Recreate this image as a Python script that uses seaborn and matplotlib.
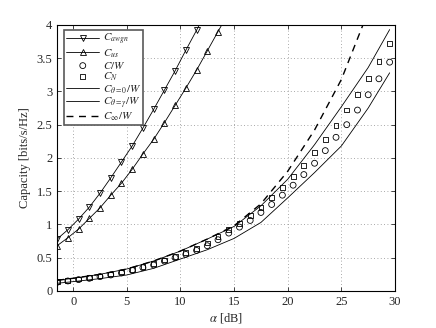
import numpy as np
import pandas as pd
import matplotlib
matplotlib.use("Agg")
import matplotlib.pyplot as plt
import seaborn as sns

# --- data ---
alpha_awgn = [-1.5, -0.5, 0.5, 1.5, 2.5, 3.5, 4.5, 5.5, 6.5, 7.5, 8.5, 9.5, 10.5, 11.5, 12.5]
cap_awgn = [0.78, 0.92, 1.08, 1.26, 1.47, 1.70, 1.94, 2.18, 2.45, 2.73, 3.02, 3.31, 3.62, 3.92, 4.23]

alpha_us = [-1.5, -0.5, 0.5, 1.5, 2.5, 3.5, 4.5, 5.5, 6.5, 7.5, 8.5, 9.5, 10.5, 11.5, 12.5, 13.5, 14.5]
cap_us = [0.68, 0.80, 0.93, 1.09, 1.25, 1.44, 1.62, 1.83, 2.06, 2.28, 2.53, 2.79, 3.05, 3.32, 3.61, 3.90, 4.19]

alpha_sim = [-1.5, -0.5, 0.5, 1.5, 2.5, 3.5, 4.5, 5.5, 6.5, 7.5, 8.5, 9.5, 10.5, 11.5, 12.5, 13.5,
             14.5, 15.5, 16.5, 17.5, 18.5, 19.5, 20.5, 21.5, 22.5, 23.5, 24.5, 25.5, 26.5, 27.5, 28.5, 29.5]
cap_w = [0.13, 0.15, 0.17, 0.19, 0.215, 0.24, 0.27, 0.31, 0.35, 0.39, 0.45, 0.50, 0.55, 0.61, 0.68, 0.77,
         0.87, 0.96, 1.06, 1.18, 1.30, 1.44, 1.59, 1.75, 1.92, 2.11, 2.31, 2.50, 2.72, 2.95, 3.19, 3.44]
cap_n = [0.14, 0.16, 0.18, 0.20, 0.225, 0.255, 0.285, 0.325, 0.365, 0.41, 0.465, 0.52, 0.575, 0.64, 0.72, 0.82,
         0.92, 1.02, 1.14, 1.26, 1.40, 1.55, 1.72, 1.89, 2.08, 2.28, 2.49, 2.72, 2.95, 3.19, 3.45, 3.72]

alpha_th = [-1.5, 0, 2.5, 5, 7.5, 10, 12.5, 15, 17.5, 20, 22.5, 25, 27.5, 29.5]
cap_th0 = [0.115, 0.14, 0.185, 0.24, 0.34, 0.48, 0.62, 0.79, 1.03, 1.40, 1.78, 2.18, 2.75, 3.28]
cap_thg = [0.16, 0.19, 0.25, 0.33, 0.45, 0.60, 0.78, 0.97, 1.28, 1.68, 2.20, 2.77, 3.36, 3.93]

alpha_inf = [-1.5, 0, 2.5, 5, 7.5, 10, 12.5, 15, 17.5, 20, 22.5, 25, 27.5]
cap_inf = [0.16, 0.19, 0.25, 0.33, 0.45, 0.60, 0.78, 0.98, 1.31, 1.80, 2.42, 3.18, 4.2]

sns.set_style("ticks")
plt.rcParams['font.family'] = ['Liberation Serif', 'DejaVu Serif']
plt.rcParams['mathtext.fontset'] = 'stix'

fig = plt.figure(figsize=(4.36, 3.28), dpi=100)
ax = fig.add_axes([0.131, 0.113, 0.775, 0.811])

lw = 0.6
ms = 4.5
sns.lineplot(x=alpha_awgn, y=cap_awgn, ax=ax, color='k', lw=lw, marker='v', ms=ms,
             mfc='none', mec='k', mew=0.6, label=r'$C_{awgn}$')
sns.lineplot(x=alpha_us, y=cap_us, ax=ax, color='k', lw=lw, marker='^', ms=ms,
             mfc='none', mec='k', mew=0.6, label=r'$C_{us}$')
sns.scatterplot(x=alpha_sim, y=cap_w, ax=ax, marker='o', s=18, facecolor='none',
                edgecolor='k', linewidth=0.6, label=r'$C/W$')
sns.scatterplot(x=alpha_sim, y=cap_n, ax=ax, marker='s', s=12, facecolor='none',
                edgecolor='k', linewidth=0.6, label=r'$C_N$')
sns.lineplot(x=alpha_th, y=cap_th0, ax=ax, color='k', lw=lw, label=r'$C_{\theta=0}/W$')
sns.lineplot(x=alpha_th, y=cap_thg, ax=ax, color='k', lw=lw, label=r'$C_{\theta=\gamma}/W$')
sns.lineplot(x=alpha_inf, y=cap_inf, ax=ax, color='k', lw=1.0, ls=(0, (5, 4)), label=r'$C_{\infty}/W$')

ax.set_xlim(-1.5, 30)
ax.set_ylim(0, 4)
ax.set_xticks([0, 5, 10, 15, 20, 25, 30])
ax.set_yticks([0, 0.5, 1, 1.5, 2, 2.5, 3, 3.5, 4])
ax.set_yticklabels(['0', '0.5', '1', '1.5', '2', '2.5', '3', '3.5', '4'])
ax.tick_params(direction='in', top=True, right=True, labelsize=9, length=3, width=0.6)
ax.grid(True, ls=(0, (1, 3)), color='0.55', lw=0.6)
for sp in ax.spines.values():
    sp.set_linewidth(0.8)
    sp.set_color('k')

ax.set_xlabel(r'$\alpha$ [dB]', fontsize=9, labelpad=2)
ax.set_ylabel('Capacity [bits/s/Hz]', fontsize=9, labelpad=4)

leg = ax.legend(loc='upper left', bbox_to_anchor=(0.02, 0.982), fontsize=8, fancybox=False,
                framealpha=1, edgecolor='0.35', handlelength=3.0, borderpad=0.2,
                labelspacing=0.0, handletextpad=0.3, borderaxespad=0)
leg.get_frame().set_linewidth(1.2)

fig.savefig('out.png', dpi=100)
